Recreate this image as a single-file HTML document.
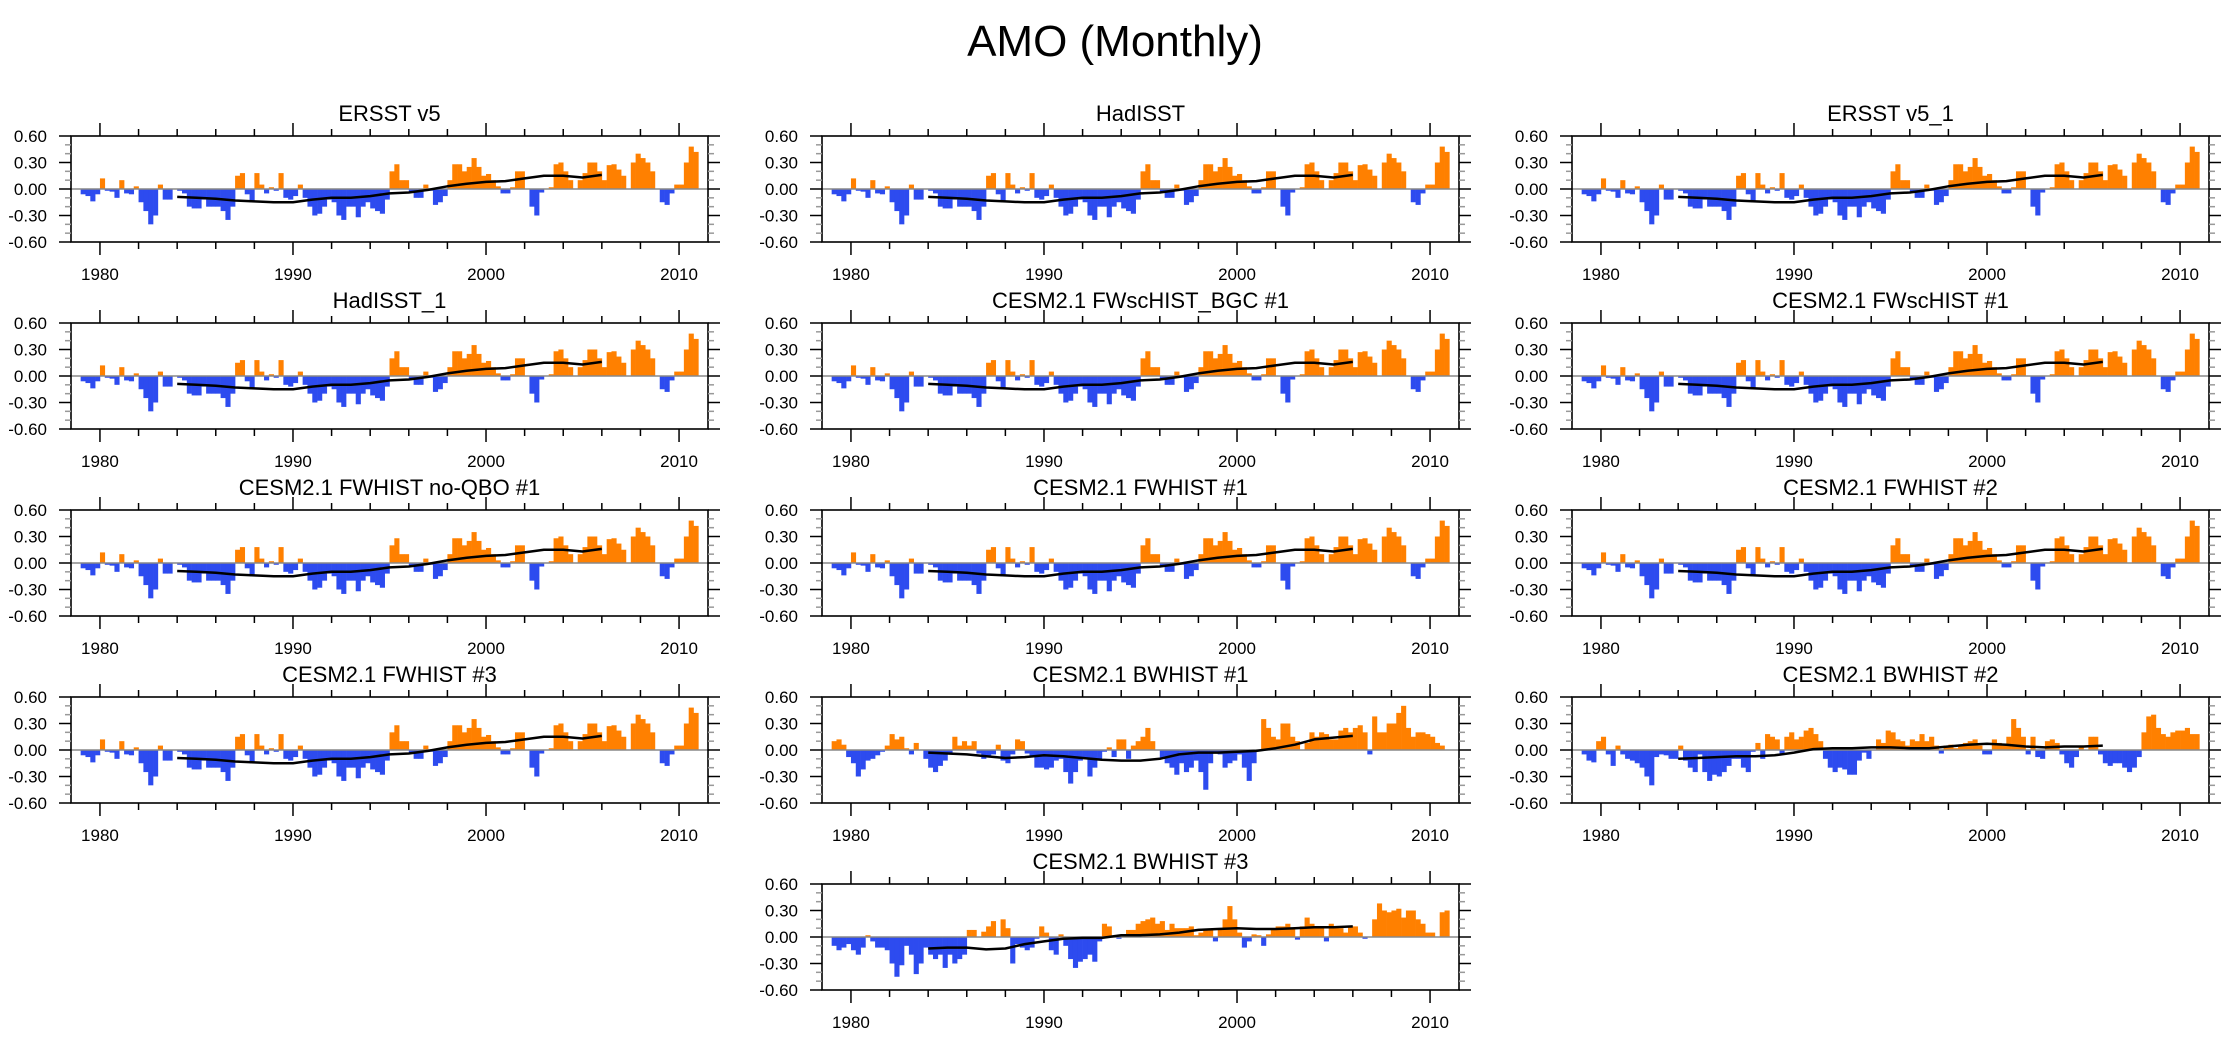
<!DOCTYPE html>
<html><head><meta charset="utf-8"><style>
body{margin:0;background:#fff}
svg{display:block;font-family:"Liberation Sans",Arial,sans-serif}
</style></head><body>
<svg id="chart" width="2230" height="1038" viewBox="0 0 2230 1038" xmlns="http://www.w3.org/2000/svg">
<rect width="2230" height="1038" fill="#fff"/>
<text x="1115" y="56" font-size="44" text-anchor="middle">AMO (Monthly)</text>
<g id="panels"></g>
</svg>
<script>
// quarterly AMO values 1979Q1..2010Q4
const obsValues = [-0.06,-0.08,-0.14,-0.06, 0.12,-0.02,-0.03,-0.1, 0.1,-0.05,-0.06,0.03, -0.15,-0.25,-0.4,-0.3, 0.05,-0.12,-0.12,0.0, -0.02,-0.05,-0.2,-0.22, -0.22,-0.12,-0.2,-0.2, -0.2,-0.25,-0.35,-0.2, 0.15,0.18,-0.06,-0.15, 0.18,0.05,-0.05,0.02, -0.02,0.18,-0.1,-0.12, -0.08,0.05,-0.1,-0.2, -0.3,-0.28,-0.2,-0.12, -0.15,-0.3,-0.35,-0.2, -0.2,-0.32,-0.2,-0.15, -0.22,-0.25,-0.28,-0.12, 0.2,0.28,0.1,0.1, -0.03,-0.1,-0.1,0.05, -0.02,-0.18,-0.15,-0.08, 0.1,0.28,0.28,0.2, 0.25,0.35,0.25,0.15, 0.17,0.1,0.03,-0.05, -0.05,0.02,0.2,0.2, 0.0,-0.2,-0.3,-0.04, 0.0,0.02,0.28,0.3, 0.2,0.1,0.0,0.1, 0.18,0.3,0.3,0.2, 0.1,0.27,0.28,0.22, 0.15,0.0,0.3,0.4, 0.35,0.3,0.2,0.0, -0.15,-0.18,-0.05,0.05, 0.05,0.3,0.48,0.42];
const bw1Values = [0.1,0.12,0.06,-0.08, -0.15,-0.3,-0.22,-0.12, -0.1,-0.06,-0.02,0.05, 0.18,0.12,0.15,0.02, -0.05,0.08,0.0,-0.1, -0.2,-0.25,-0.18,-0.12, -0.04,0.15,0.05,0.1, 0.05,0.1,-0.04,-0.1, -0.08,-0.05,0.06,-0.12, -0.15,-0.05,0.12,0.1, -0.04,-0.08,-0.2,-0.2, -0.22,-0.2,-0.12,-0.1, -0.25,-0.38,-0.25,-0.12, -0.1,-0.3,-0.2,-0.12, -0.02,0.03,-0.08,0.12, 0.12,-0.1,0.05,0.1, 0.15,0.25,0.1,0.0, -0.1,-0.15,-0.2,-0.28, -0.15,-0.25,-0.2,-0.12, -0.25,-0.45,-0.15,-0.02, -0.05,-0.2,-0.15,-0.12, -0.05,-0.2,-0.35,-0.15, 0.0,0.35,0.25,0.15, 0.12,0.3,0.3,0.15, 0.1,0.0,0.08,0.2, 0.15,0.2,0.18,0.12, 0.12,0.22,0.25,0.2, 0.25,0.28,0.2,-0.05, 0.38,0.2,0.2,0.3, 0.3,0.42,0.5,0.25, 0.15,0.2,0.2,0.18, 0.15,0.08,0.05,0.0];
const bw2Values = [-0.05,-0.12,-0.14,0.1, 0.15,-0.05,-0.18,0.05, -0.05,-0.1,-0.12,-0.15, -0.2,-0.3,-0.4,-0.08, -0.05,-0.06,-0.1,-0.1, 0.05,-0.12,-0.2,-0.25, -0.05,-0.25,-0.35,-0.28, -0.3,-0.25,-0.18,-0.1, -0.1,-0.2,-0.25,-0.02, 0.08,-0.1,0.18,0.15, 0.12,-0.04,0.15,0.2, 0.12,0.15,0.22,0.25, 0.18,0.1,-0.1,-0.2, -0.25,-0.2,-0.22,-0.28, -0.28,-0.12,-0.03,-0.1, 0.0,0.12,0.08,0.22, 0.2,0.12,0.1,0.05, 0.12,0.1,0.18,0.1, 0.15,0.05,-0.04,0.05, 0.06,0.02,0.05,0.08, 0.1,0.12,0.05,-0.05, -0.05,0.12,0.08,0.05, 0.15,0.35,0.25,0.15, -0.05,0.15,-0.08,-0.1, 0.1,0.12,0.08,-0.05, -0.15,-0.2,-0.08,0.05, 0.0,0.15,0.15,-0.05, -0.15,-0.18,-0.15,-0.15, -0.2,-0.25,-0.2,-0.08, 0.2,0.38,0.4,0.25, 0.18,0.15,0.2,0.22, 0.22,0.25,0.18,0.18];
const bw3Values = [-0.1,-0.15,-0.12,-0.08, -0.15,-0.2,-0.12,0.02, -0.05,-0.12,-0.12,-0.15, -0.3,-0.45,-0.32,-0.1, -0.2,-0.42,-0.3,-0.12, -0.2,-0.25,-0.2,-0.35, -0.2,-0.3,-0.25,-0.2, 0.08,0.08,0.0,0.06, 0.12,0.18,0.0,0.2, 0.1,-0.3,-0.08,-0.12, -0.15,-0.12,-0.02,0.12, 0.05,-0.15,-0.2,0.03, -0.1,-0.25,-0.35,-0.28, -0.25,-0.2,-0.28,-0.05, 0.15,0.12,0.0,-0.02, 0.02,0.08,0.08,0.15, 0.18,0.2,0.22,0.15, 0.18,0.08,0.15,0.1, 0.1,0.1,0.12,0.02, 0.05,0.08,0.08,-0.05, 0.1,0.2,0.35,0.2, 0.05,-0.12,-0.05,0.03, 0.02,-0.1,0.03,0.08, 0.12,0.12,0.15,0.1, -0.03,0.12,0.22,0.15, 0.12,0.12,-0.05,0.15, 0.12,0.1,0.05,0.12, 0.12,0.05,-0.02,0.0, 0.2,0.38,0.3,0.28, 0.3,0.32,0.22,0.3, 0.3,0.2,0.15,0.05, 0.05,0.0,0.28,0.3];
// smoothed (annual) curves 1984..2006
const obsSmooth = [-0.09,-0.1,-0.11,-0.13,-0.14,-0.15,-0.15,-0.12,-0.1,-0.1,-0.08,-0.05,-0.04,-0.01,0.03,0.06,0.08,0.09,0.12,0.15,0.15,0.13,0.16];
const bw1Smooth = [-0.03,-0.04,-0.05,-0.07,-0.09,-0.08,-0.06,-0.07,-0.09,-0.11,-0.12,-0.12,-0.1,-0.05,-0.03,-0.03,-0.02,-0.01,0.02,0.06,0.12,0.14,0.16];
const bw2Smooth = [-0.1,-0.09,-0.08,-0.07,-0.07,-0.06,-0.03,0.01,0.02,0.02,0.03,0.03,0.02,0.02,0.04,0.06,0.07,0.06,0.04,0.03,0.04,0.04,0.05];
const bw3Smooth = [-0.13,-0.12,-0.12,-0.14,-0.13,-0.08,-0.05,-0.02,-0.01,-0.01,0.02,0.02,0.03,0.05,0.08,0.09,0.1,0.09,0.09,0.1,0.11,0.11,0.12];
const panelTitles = ["ERSST v5","HadISST","ERSST v5_1","HadISST_1","CESM2.1 FWscHIST_BGC #1","CESM2.1 FWscHIST #1","CESM2.1 FWHIST no-QBO #1","CESM2.1 FWHIST #1","CESM2.1 FWHIST #2","CESM2.1 FWHIST #3","CESM2.1 BWHIST #1","CESM2.1 BWHIST #2","CESM2.1 BWHIST #3"];
const yTickValues = [0.6,0.3,0,-0.3,-0.6];
const yTickLabels = ["0.60","0.30","0.00","-0.30","-0.60"];
const xTickYears = [1980,1990,2000,2010];
const startYear = 1979, smoothStart = 1984;

const NS="http://www.w3.org/2000/svg";
const root=document.getElementById('panels');
function mk(tag,attrs,parent){const e=document.createElementNS(NS,tag);for(const k in attrs)e.setAttribute(k,attrs[k]);parent.appendChild(e);return e;}
const colX=[71,822,1572], rowY=[136,323,510,697,884], W=637, H=106;
const slots=[[0,0],[0,1],[0,2],[1,0],[1,1],[1,2],[2,0],[2,1],[2,2],[3,0],[3,1],[3,2],[4,1]];
const seriesFor=i=> i===10?[bw1Values,bw1Smooth]: i===11?[bw2Values,bw2Smooth]: i===12?[bw3Values,bw3Smooth]:[obsValues,obsSmooth];

slots.forEach(([r,c],i)=>{
  const L=colX[c], T=rowY[r];
  const xs=t=>L+(t-1978.5)/33*W;
  const ys=v=>T+H/2-v/0.6*(H/2);
  const g=mk('g',{},root);
  
  
  const tt=mk('text',{x:L+W/2,y:T-15,'font-size':22,'text-anchor':'middle'},g);
  tt.textContent=panelTitles[i];
  
  
  const [vals,sm]=seriesFor(i);
  vals.forEach((v,k)=>{
    const t=startYear+k/4, x0=xs(t), x1=xs(t+0.25);
    const y0=ys(0), y1=ys(v);
    const b=mk('rect',{x:x0,y:Math.min(y0,y1),width:x1-x0+0.3,height:Math.abs(y1-y0),fill:v>=0?'#ff8000':'#2d4bef'},g);
    
    
  });
  mk('line',{x1:L,x2:L+W,y1:ys(0),y2:ys(0),stroke:'#888','stroke-width':1.5},g);
  const pts=sm.map((v,k)=>xs(smoothStart+k).toFixed(1)+','+ys(v).toFixed(1)).join(' ');
  const pl=mk('polyline',{points:pts,fill:'none',stroke:'#000','stroke-width':2.5,'stroke-linejoin':'round'},g);
  
  
  // box
  mk('rect',{x:L,y:T,width:W,height:H,fill:'none',stroke:'#000','stroke-width':1.6},g);
  // y ticks
  for(let v=-0.6;v<=0.601;v+=0.1){
    const y=ys(v), major=Math.abs(Math.round(v*10)%3)===0;
    const len=major?12:6, col=major?'#000':'#999';
    mk('line',{x1:L-len,x2:L,y1:y,y2:y,stroke:col,'stroke-width':1.5},g);
    mk('line',{x1:L+W,x2:L+W+len,y1:y,y2:y,stroke:col,'stroke-width':1.5},g);
  }
  yTickValues.forEach((v,k)=>{
    const t=mk('text',{x:L-24,y:ys(v)+6,'font-size':17,'text-anchor':'end'},g);
    t.textContent=yTickLabels[k];
    
    
  });
  // x ticks
  for(let yr=1980;yr<=2010;yr+=2){
    const x=xs(yr), major=yr%10===0, len=major?13:7;
    mk('line',{x1:x,x2:x,y1:T-len,y2:T,stroke:'#000','stroke-width':1.5},g);
    mk('line',{x1:x,x2:x,y1:T+H,y2:T+H+len,stroke:'#000','stroke-width':1.5},g);
  }
  xTickYears.forEach(yr=>{
    const t=mk('text',{x:xs(yr),y:T+H+38,'font-size':17,'text-anchor':'middle'},g);
    t.textContent=yr;
    
    
  });
});
</script>
</body></html>
